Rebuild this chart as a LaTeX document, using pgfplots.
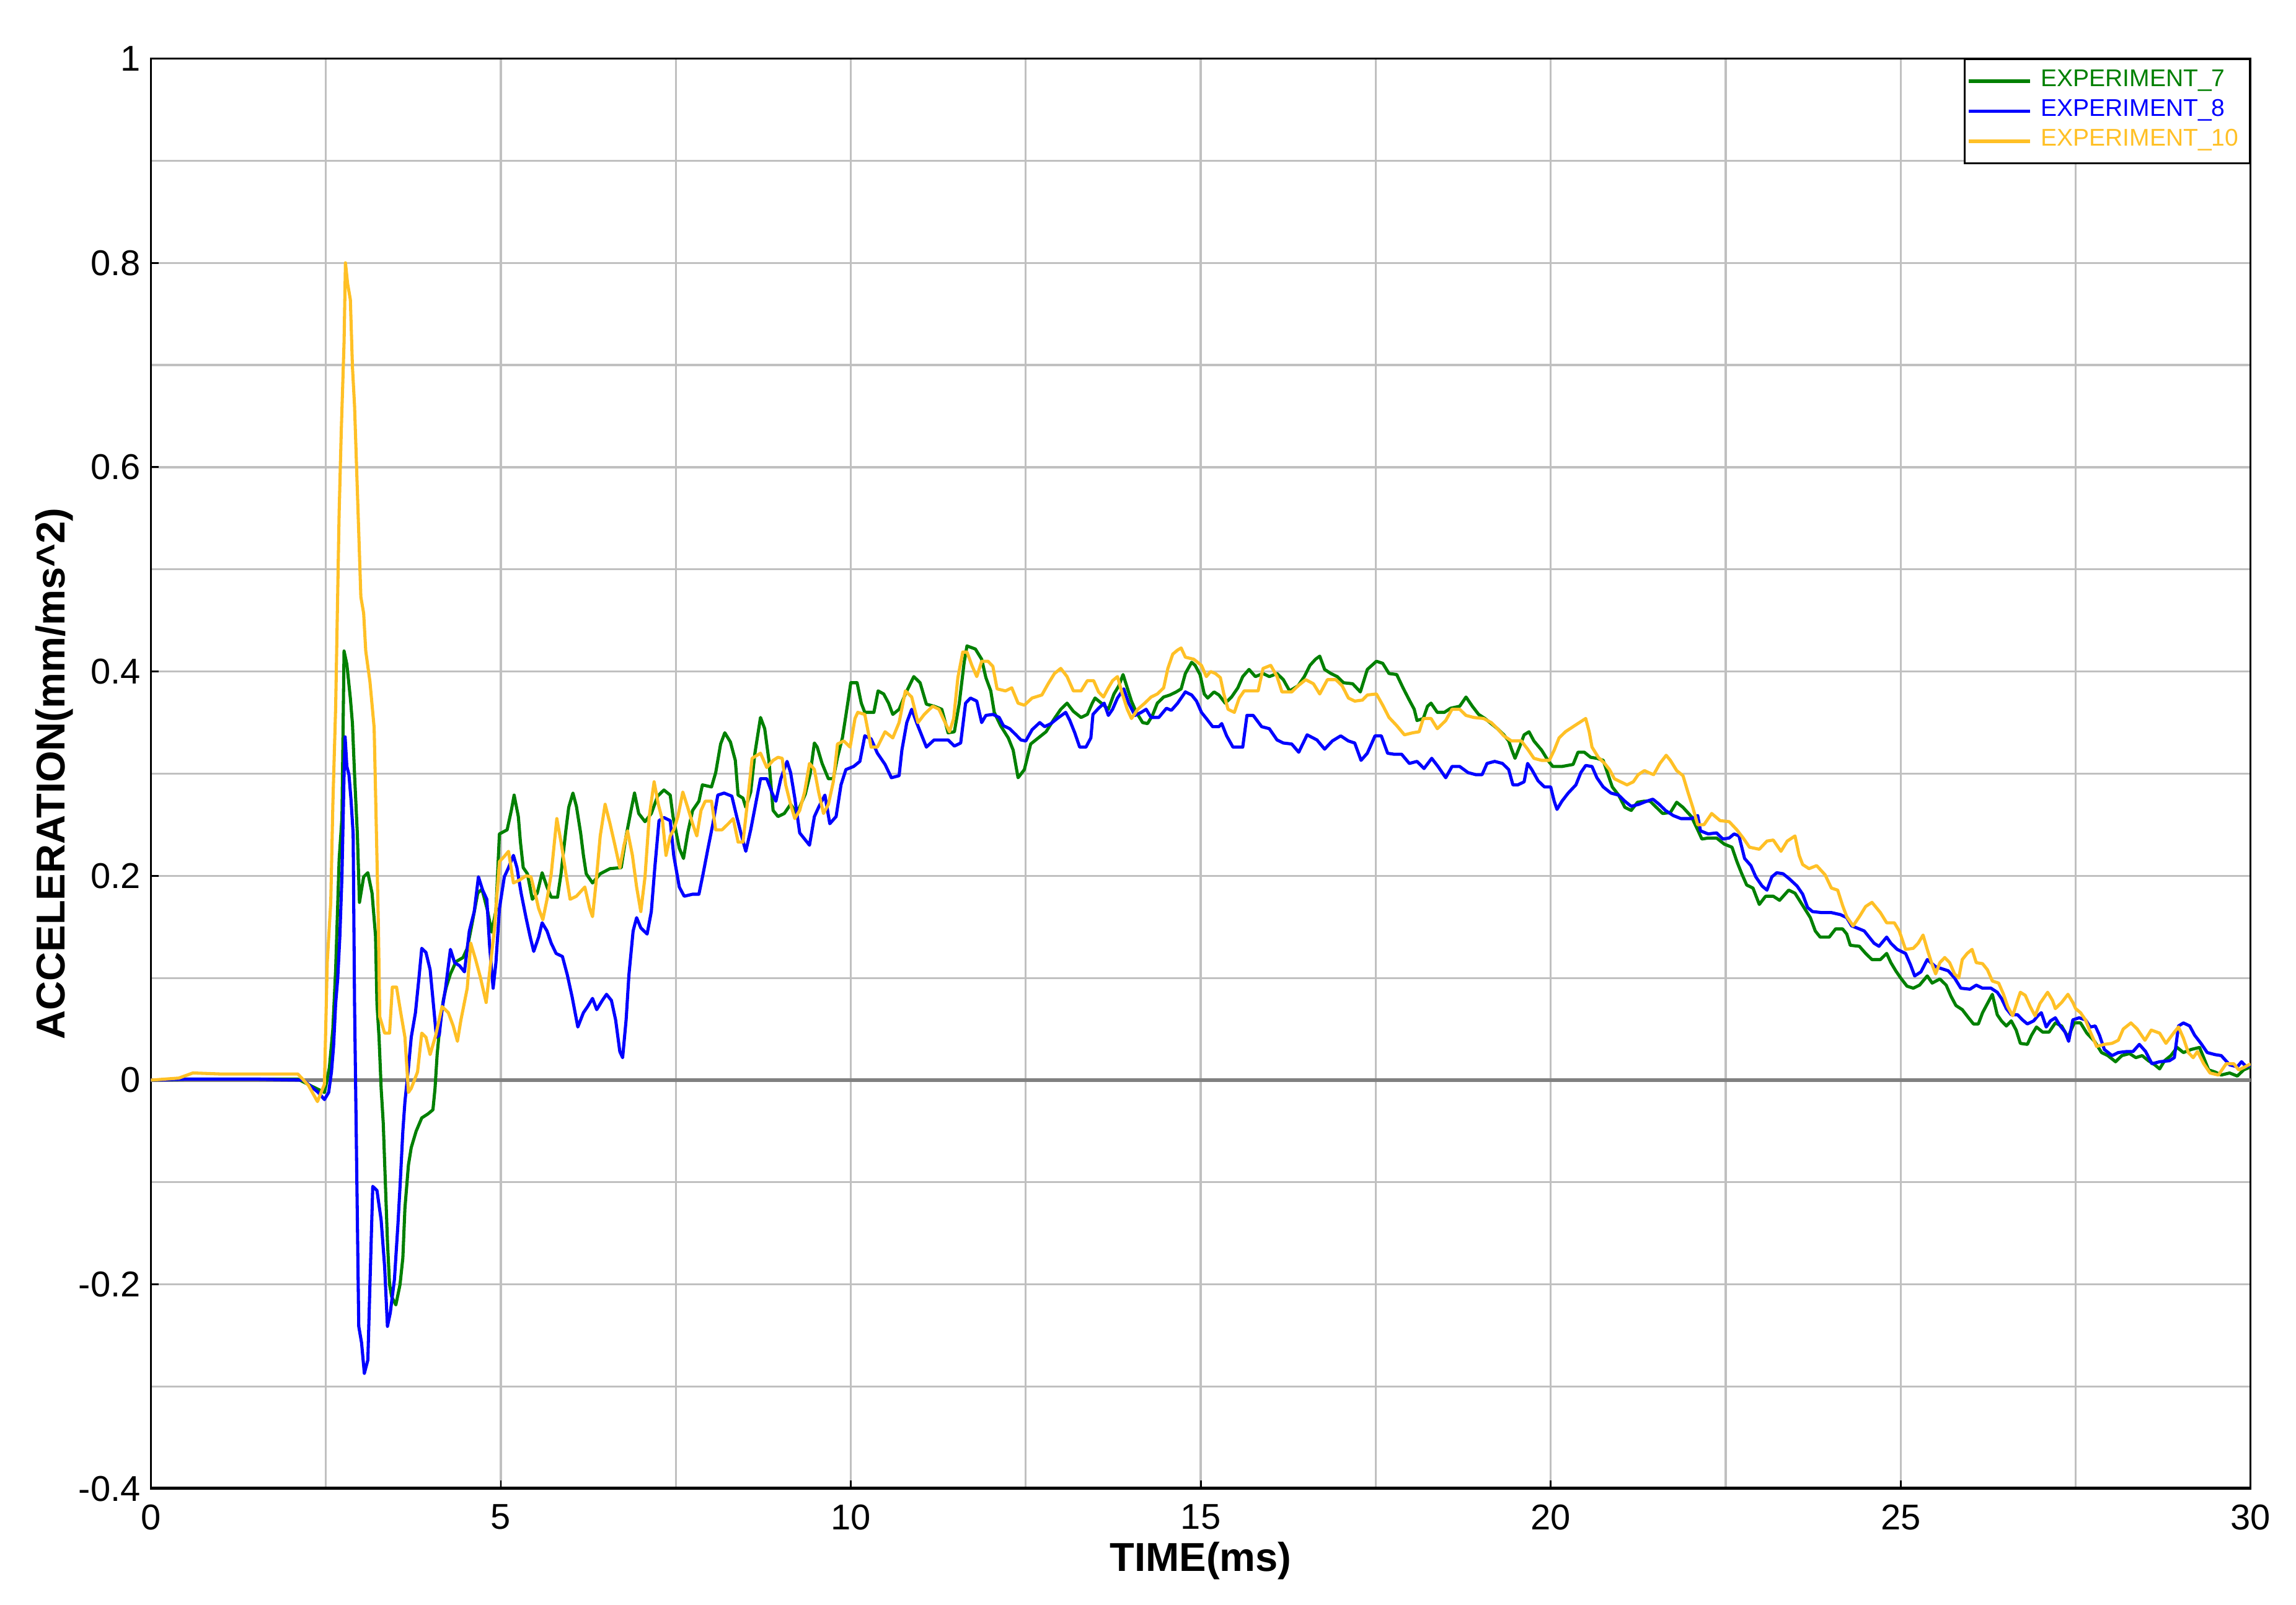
\documentclass[border=0pt]{standalone}
\usepackage{fontspec}
\setmainfont{Liberation Sans}
\usepackage{pgfplots}
\pgfplotsset{compat=1.18}

\definecolor{expgreen}{RGB}{0,128,0}
\definecolor{expblue}{RGB}{0,0,255}
\definecolor{expyellow}{RGB}{255,192,38}
\definecolor{gridgray}{RGB}{192,192,192}
\definecolor{zerogray}{RGB}{128,128,128}

\begin{document}
\begin{tikzpicture}
% page = the whole chart, axis box at (0,0)
\useasboundingbox (-1.183cm,-0.911cm) rectangle (16.819cm,11.676cm);
\begin{axis}[
  at={(0,0)}, anchor=south west,
  width=16.463cm, height=11.217cm, scale only axis,
  xmin=0, xmax=30, ymin=-0.4, ymax=1,
  xtick={0,5,10,15,20,25,30},
  ytick={-0.4,-0.2,0,0.2,0.4,0.6,0.8,1},
  minor xtick={2.5,7.5,12.5,17.5,22.5,27.5},
  minor ytick={-0.3,-0.1,0.1,0.3,0.5,0.7,0.9},
  grid=both,
  major grid style={gridgray, line width=0.45pt},
  minor grid style={gridgray, line width=0.45pt},
  tick pos=left, tick align=inside,
  major tick length=1.8pt, minor tick length=0pt,
  tick style={black, line width=0.4pt},
  axis line style={black, line width=0.4pt},
  /pgf/number format/assume math mode=true,
  ticklabel style={font=\fontsize{8}{9.6}\selectfont},
  yticklabel style={xshift=1.2pt},
  label style={font=\fontsize{9}{10.8}\selectfont\bfseries},
  xlabel={TIME(ms)},
  ylabel={ACCELERATION(mm/ms\textasciicircum{}2)},
  xlabel style={at={(axis description cs:0.5,-0.0502)}, anchor=center},
  ylabel style={at={(axis description cs:-0.046,0.5)}, anchor=center},
  legend style={at={(1,1)}, anchor=north east, draw=black, line width=0.4pt,
    fill=white, font=\fontsize{5.4}{6.6}\selectfont,
    inner xsep=0.5pt, inner ysep=0.3pt, row sep=-2.6pt,
    cells={anchor=west}},
  legend image code/.code={\draw[#1, line width=0.8pt] (0cm,0cm) -- (0.48cm,0cm);},
  every axis plot/.append style={line width=0.7pt, line join=round},
]

% zero reference line
\draw[zerogray, line width=0.9pt] (axis cs:0,0) -- (axis cs:30,0);

% EXPERIMENT_7
\addplot[expgreen] coordinates {
(0,0) (0.5,0.001) (1.0,0.001) (1.5,0.001) (2.1,0.001) (2.3,-0.006) (2.48,-0.012) (2.55,0.012) (2.60,0.05) (2.64,0.108) (2.69,0.216) (2.73,0.257) (2.76,0.42) (2.80,0.407) (2.85,0.374) (2.88,0.349) (2.91,0.299) (2.95,0.241) (2.98,0.174) (3.04,0.199) (3.10,0.203) (3.16,0.183) (3.21,0.141) (3.23,0.075) (3.26,0.042) (3.29,-0.008) (3.32,-0.042) (3.35,-0.10) (3.38,-0.158) (3.41,-0.2) (3.44,-0.212) (3.50,-0.22) (3.56,-0.20) (3.60,-0.174) (3.63,-0.125) (3.68,-0.083) (3.72,-0.066) (3.79,-0.05) (3.87,-0.037) (3.96,-0.033) (4.03,-0.029) (4.06,-0.008) (4.09,0.025) (4.13,0.054) (4.18,0.079) (4.22,0.091) (4.28,0.104) (4.36,0.116) (4.46,0.12) (4.52,0.129) (4.58,0.15) (4.67,0.183) (4.73,0.187) (4.81,0.166) (4.87,0.145) (4.93,0.166) (4.98,0.241)
(5.09,0.245) (5.15,0.264) (5.19,0.279) (5.25,0.258) (5.28,0.233) (5.32,0.208) (5.38,0.202) (5.45,0.177) (5.52,0.183) (5.59,0.203) (5.66,0.189) (5.72,0.179) (5.81,0.179) (5.86,0.202) (5.93,0.245) (5.97,0.267) (6.03,0.281) (6.08,0.268) (6.14,0.242) (6.18,0.220) (6.22,0.202) (6.31,0.193) (6.42,0.202) (6.56,0.207) (6.72,0.208) (6.79,0.239) (6.86,0.264) (6.91,0.281) (6.97,0.261) (7.06,0.253) (7.15,0.261) (7.24,0.278) (7.33,0.284) (7.42,0.279) (7.46,0.258) (7.55,0.227) (7.61,0.217) (7.67,0.242) (7.74,0.264) (7.83,0.273) (7.88,0.289) (8.01,0.287) (8.07,0.301) (8.14,0.329) (8.20,0.340) (8.28,0.331) (8.35,0.313) (8.39,0.279) (8.46,0.276) (8.50,0.267) (8.57,0.282) (8.63,0.320) (8.71,0.355) (8.77,0.344) (8.83,0.313) (8.89,0.264) (8.96,0.258) (9.05,0.261) (9.14,0.270) (9.23,0.261) (9.35,0.28) (9.42,0.30) (9.48,0.330) (9.52,0.326) (9.59,0.310) (9.68,0.295) (9.75,0.295) (9.81,0.316) (9.88,0.335) (9.93,0.357) (10.0,0.389) (10.09,0.389) (10.15,0.369) (10.20,0.360) (10.33,0.360) (10.39,0.381) (10.47,0.378) (10.54,0.369) (10.60,0.358)
(10.69,0.363) (10.78,0.378) (10.90,0.395) (10.99,0.389) (11.08,0.368) (11.19,0.366) (11.30,0.363) (11.39,0.340) (11.48,0.341) (11.55,0.369) (11.62,0.409) (11.66,0.425) (11.78,0.422) (11.87,0.412) (11.93,0.394) (12.00,0.381) (12.05,0.360) (12.14,0.347) (12.25,0.335) (12.32,0.323) (12.39,0.296) (12.48,0.304) (12.57,0.329) (12.68,0.335) (12.79,0.341) (12.91,0.354) (13.00,0.363) (13.09,0.369) (13.18,0.361) (13.29,0.355) (13.38,0.358) (13.45,0.369) (13.49,0.374) (13.58,0.369) (13.68,0.363) (13.76,0.378) (13.83,0.386) (13.89,0.397) (13.95,0.384) (14.01,0.371) (14.08,0.360) (14.17,0.350) (14.24,0.349) (14.31,0.357) (14.38,0.369) (14.47,0.375) (14.56,0.377) (14.65,0.380) (14.72,0.383) (14.78,0.398) (14.87,0.409) (14.92,0.406) (14.99,0.397) (15.05,0.378) (15.10,0.374) (15.19,0.380) (15.26,0.377) (15.35,0.369) (15.44,0.375) (15.53,0.384) (15.60,0.395) (15.69,0.402) (15.78,0.395) (15.89,0.398) (15.98,0.395) (16.09,0.398) (16.18,0.392) (16.27,0.381) (16.39,0.386) (16.48,0.395) (16.56,0.406) (16.64,0.412) (16.70,0.415) (16.77,0.402) (16.86,0.398) (16.95,0.395) (17.04,0.389) (17.17,0.388) (17.28,0.380) (17.38,0.402)
(17.51,0.410) (17.60,0.408) (17.69,0.398) (17.80,0.397) (17.89,0.384) (17.98,0.372) (18.05,0.363) (18.09,0.352) (18.18,0.354) (18.24,0.366) (18.29,0.369) (18.38,0.360) (18.48,0.360) (18.57,0.364) (18.70,0.366) (18.79,0.375) (18.88,0.366) (18.97,0.358) (19.06,0.354) (19.15,0.349) (19.24,0.344) (19.33,0.338) (19.40,0.332) (19.44,0.324) (19.49,0.315) (19.56,0.327) (19.62,0.338) (19.69,0.341) (19.76,0.332) (19.87,0.323) (19.96,0.313) (20.03,0.307) (20.16,0.307) (20.32,0.309) (20.39,0.321) (20.48,0.321) (20.57,0.316) (20.66,0.315) (20.75,0.313) (20.81,0.301) (20.88,0.287) (20.97,0.279) (21.06,0.267) (21.15,0.264) (21.24,0.272) (21.33,0.273) (21.42,0.273) (21.51,0.267) (21.60,0.261) (21.71,0.262) (21.80,0.272) (21.89,0.267) (22.01,0.258) (22.10,0.245) (22.16,0.236) (22.25,0.237) (22.37,0.237) (22.48,0.231) (22.59,0.228) (22.66,0.214) (22.73,0.202) (22.80,0.191) (22.89,0.188) (22.98,0.172) (23.07,0.180) (23.18,0.180) (23.27,0.176) (23.40,0.186) (23.49,0.183)
(23.60,0.171) (23.71,0.159) (23.78,0.146) (23.85,0.140) (23.98,0.140) (24.07,0.148) (24.17,0.148) (24.23,0.143) (24.28,0.132) (24.41,0.131) (24.50,0.124) (24.59,0.118) (24.71,0.118) (24.80,0.124) (24.86,0.115) (24.93,0.107) (25.00,0.100) (25.09,0.092) (25.18,0.090) (25.27,0.093) (25.38,0.102) (25.45,0.095) (25.56,0.099) (25.65,0.093) (25.72,0.082) (25.79,0.073) (25.88,0.069) (25.97,0.061) (26.04,0.055) (26.11,0.055) (26.17,0.066) (26.24,0.075) (26.31,0.084) (26.38,0.064) (26.44,0.058) (26.51,0.053) (26.58,0.058) (26.65,0.049) (26.71,0.036) (26.81,0.035) (26.87,0.044) (26.94,0.052) (27.03,0.047) (27.12,0.047) (27.21,0.056) (27.30,0.053) (27.39,0.042) (27.48,0.056) (27.57,0.056) (27.66,0.046) (27.77,0.038) (27.87,0.027) (27.96,0.024) (28.07,0.018) (28.16,0.024) (28.27,0.026) (28.36,0.022) (28.45,0.024) (28.54,0.019) (28.63,0.015) (28.70,0.011) (28.77,0.019) (28.86,0.024) (28.95,0.032) (29.04,0.027) (29.15,0.030) (29.27,0.032) (29.33,0.022) (29.40,0.010) (29.49,0.008) (29.58,0.005) (29.70,0.007) (29.81,0.004) (29.90,0.010) (30.0,0.013)
};
\addlegendentry{\textcolor{expgreen}{EXPERIMENT\_7}}

% EXPERIMENT_8
\addplot[expblue] coordinates {
(0,0) (0.5,0.001) (1.0,0.001) (1.5,0.001) (2.18,0) (2.39,-0.012) (2.48,-0.019) (2.54,-0.012) (2.58,0.008) (2.61,0.033) (2.64,0.075) (2.67,0.1) (2.70,0.141) (2.73,0.2) (2.76,0.299) (2.775,0.336) (2.80,0.307) (2.83,0.299) (2.86,0.274) (2.89,0.241) (2.91,0.075) (2.94,-0.083) (2.97,-0.241) (3.01,-0.257) (3.05,-0.287) (3.10,-0.274) (3.13,-0.2) (3.17,-0.104) (3.23,-0.108) (3.29,-0.137) (3.34,-0.183) (3.38,-0.241) (3.42,-0.228) (3.48,-0.195) (3.53,-0.141) (3.56,-0.104) (3.60,-0.05) (3.63,-0.021) (3.68,0.012) (3.72,0.042) (3.78,0.066) (3.83,0.1) (3.87,0.129) (3.93,0.125) (3.99,0.108) (4.03,0.079) (4.08,0.042) (4.12,0.044) (4.16,0.069) (4.21,0.090) (4.28,0.128) (4.34,0.115) (4.41,0.112) (4.48,0.106) (4.55,0.146) (4.62,0.165) (4.68,0.199) (4.74,0.186) (4.80,0.177) (4.84,0.131) (4.89,0.090) (4.93,0.115) (4.98,0.168) (5.05,0.199) (5.11,0.208) (5.18,0.220) (5.23,0.208) (5.29,0.183) (5.36,0.159) (5.42,0.140) (5.47,0.126) (5.54,0.140) (5.59,0.154) (5.66,0.146) (5.72,0.134) (5.79,0.124) (5.88,0.121) (5.95,0.103) (6.02,0.081) (6.10,0.052) (6.18,0.066) (6.24,0.072) (6.31,0.080) (6.37,0.069) (6.45,0.078) (6.51,0.084) (6.58,0.078) (6.64,0.059) (6.70,0.028) (6.74,0.022) (6.79,0.059) (6.83,0.103) (6.89,0.146) (6.94,0.159) (7.00,0.149) (7.09,0.143) (7.15,0.165) (7.20,0.208) (7.26,0.254) (7.33,0.257) (7.42,0.254) (7.47,0.220) (7.55,0.189) (7.62,0.180) (7.74,0.182) (7.83,0.182) (7.89,0.202) (7.96,0.227) (8.03,0.251) (8.10,0.279) (8.19,0.281) (8.30,0.278) (8.37,0.258) (8.44,0.239) (8.50,0.224) (8.57,0.245) (8.64,0.270) (8.71,0.295) (8.80,0.295) (8.87,0.282) (8.93,0.273) (9.00,0.295) (9.09,0.312) (9.14,0.301) (9.20,0.276) (9.27,0.242) (9.34,0.236) (9.41,0.230) (9.48,0.258) (9.54,0.267) (9.63,0.279) (9.70,0.251) (9.79,0.258) (9.86,0.289) (9.93,0.304) (10.04,0.307) (10.13,0.312) (10.20,0.337) (10.29,0.334) (10.38,0.320) (10.49,0.309) (10.58,0.296)
(10.69,0.298) (10.73,0.323) (10.80,0.350) (10.87,0.363) (10.94,0.350) (11.01,0.338) (11.08,0.326) (11.19,0.333) (11.30,0.333) (11.39,0.333) (11.48,0.327) (11.57,0.330) (11.64,0.369) (11.71,0.374) (11.80,0.371) (11.87,0.350) (11.93,0.357) (12.03,0.358) (12.12,0.355) (12.18,0.347) (12.27,0.344) (12.36,0.338) (12.43,0.333) (12.50,0.332) (12.59,0.343) (12.70,0.350) (12.77,0.346) (12.86,0.349) (12.95,0.354) (13.07,0.360) (13.13,0.352) (13.20,0.340) (13.27,0.326) (13.36,0.326) (13.43,0.335) (13.46,0.358) (13.54,0.364) (13.62,0.369) (13.68,0.357) (13.74,0.363) (13.81,0.374) (13.90,0.383) (13.97,0.369) (14.06,0.357) (14.15,0.360) (14.22,0.363) (14.29,0.355) (14.40,0.355) (14.51,0.364) (14.58,0.362) (14.67,0.369) (14.78,0.380) (14.87,0.377) (14.94,0.371) (15.01,0.360) (15.08,0.354) (15.17,0.346) (15.26,0.346) (15.30,0.349) (15.37,0.337) (15.46,0.326) (15.60,0.326) (15.66,0.357) (15.75,0.357) (15.87,0.346) (15.98,0.344) (16.09,0.333) (16.18,0.330) (16.30,0.329) (16.40,0.321) (16.52,0.338) (16.66,0.333) (16.77,0.324) (16.88,0.332) (17.00,0.337) (17.11,0.332) (17.20,0.330) (17.29,0.313) (17.38,0.320)
(17.49,0.337) (17.58,0.337) (17.67,0.320) (17.76,0.319) (17.87,0.319) (17.98,0.310) (18.09,0.312) (18.19,0.305) (18.30,0.315) (18.39,0.307) (18.50,0.296) (18.59,0.307) (18.70,0.307) (18.82,0.301) (18.93,0.299) (19.02,0.299) (19.09,0.310) (19.20,0.312) (19.31,0.310) (19.40,0.304) (19.46,0.289) (19.53,0.289) (19.62,0.292) (19.67,0.310) (19.73,0.304) (19.82,0.293) (19.91,0.287) (20.00,0.287) (20.05,0.273) (20.09,0.265) (20.16,0.273) (20.25,0.281) (20.36,0.289) (20.43,0.301) (20.50,0.308) (20.59,0.307) (20.66,0.296) (20.75,0.287) (20.86,0.281) (20.97,0.279) (21.06,0.273) (21.15,0.268) (21.26,0.270) (21.37,0.273) (21.46,0.275) (21.55,0.270) (21.64,0.264) (21.75,0.259) (21.86,0.256) (22.01,0.256) (22.10,0.259) (22.14,0.244) (22.25,0.241) (22.37,0.242) (22.46,0.236) (22.55,0.237) (22.62,0.241) (22.69,0.239) (22.77,0.217) (22.86,0.210) (22.93,0.199) (23.02,0.190) (23.09,0.186) (23.16,0.199) (23.23,0.203) (23.32,0.202) (23.41,0.197) (23.52,0.190)
(23.60,0.182) (23.67,0.169) (23.74,0.165) (23.87,0.164) (24.01,0.164) (24.14,0.162) (24.23,0.159) (24.30,0.151) (24.41,0.148) (24.48,0.146) (24.55,0.140) (24.62,0.134) (24.69,0.131) (24.80,0.140) (24.86,0.134) (24.95,0.128) (25.07,0.124) (25.14,0.113) (25.20,0.102) (25.29,0.106) (25.38,0.118) (25.50,0.111) (25.59,0.109) (25.68,0.107) (25.77,0.100) (25.86,0.090) (25.99,0.089) (26.08,0.093) (26.17,0.090) (26.29,0.090) (26.38,0.086) (26.44,0.080) (26.51,0.070) (26.58,0.064) (26.67,0.064) (26.74,0.059) (26.81,0.055) (26.90,0.058) (26.96,0.063) (27.01,0.066) (27.08,0.052) (27.14,0.058) (27.21,0.061) (27.28,0.053) (27.35,0.047) (27.40,0.038) (27.46,0.059) (27.55,0.061) (27.64,0.059) (27.71,0.052) (27.78,0.053) (27.84,0.044) (27.91,0.030) (28.02,0.024) (28.11,0.027) (28.23,0.028) (28.32,0.028) (28.41,0.035) (28.50,0.028) (28.59,0.016) (28.70,0.018) (28.84,0.019) (28.91,0.022) (28.97,0.053) (29.04,0.056) (29.13,0.053) (29.20,0.044) (29.29,0.036) (29.38,0.027) (29.49,0.025) (29.58,0.024) (29.70,0.015) (29.81,0.013) (29.87,0.018) (29.94,0.013) (30.0,0.015)
};
\addlegendentry{\textcolor{expblue}{EXPERIMENT\_8}}

% EXPERIMENT_10
\addplot[expyellow] coordinates {
(0,0) (0.4,0.002) (0.6,0.007) (1.0,0.006) (1.5,0.006) (2.10,0.006) (2.25,-0.005) (2.38,-0.021) (2.48,-0.004) (2.52,0.116) (2.57,0.174) (2.60,0.27) (2.64,0.365) (2.69,0.556) (2.72,0.635) (2.76,0.722) (2.78,0.80) (2.81,0.78) (2.85,0.764) (2.88,0.698) (2.91,0.66) (2.94,0.598) (2.97,0.536) (3.00,0.473) (3.04,0.457) (3.07,0.42) (3.13,0.39) (3.19,0.345) (3.22,0.25) (3.25,0.154) (3.27,0.062) (3.34,0.046) (3.41,0.046) (3.45,0.091) (3.51,0.091) (3.57,0.066) (3.63,0.042) (3.68,-0.012) (3.72,-0.008) (3.81,0.008) (3.87,0.046) (3.93,0.042) (3.99,0.025) (4.07,0.044) (4.16,0.072) (4.25,0.066) (4.32,0.053) (4.38,0.038) (4.43,0.059) (4.52,0.090) (4.57,0.134) (4.64,0.118) (4.71,0.100) (4.79,0.076) (4.84,0.106) (4.91,0.149) (4.98,0.214) (5.05,0.219) (5.11,0.224) (5.18,0.193) (5.27,0.196) (5.36,0.200) (5.43,0.199) (5.50,0.180) (5.54,0.168) (5.60,0.157) (5.66,0.177) (5.72,0.202) (5.77,0.236) (5.80,0.256) (5.86,0.233) (5.93,0.202) (5.99,0.177) (6.08,0.180) (6.20,0.189) (6.27,0.168) (6.31,0.160) (6.36,0.193) (6.42,0.239) (6.49,0.270) (6.56,0.251) (6.63,0.230) (6.70,0.208) (6.76,0.230) (6.81,0.244) (6.88,0.220) (6.94,0.189) (7.00,0.165) (7.06,0.199) (7.12,0.258) (7.19,0.292) (7.25,0.270) (7.31,0.254) (7.36,0.220) (7.42,0.239) (7.47,0.245) (7.53,0.258) (7.60,0.282) (7.67,0.267) (7.74,0.251) (7.80,0.239) (7.86,0.264) (7.92,0.273) (8.01,0.273) (8.07,0.245) (8.16,0.245) (8.25,0.251) (8.32,0.256) (8.39,0.233) (8.46,0.233) (8.53,0.276) (8.59,0.315) (8.71,0.320) (8.80,0.306) (8.89,0.313) (8.96,0.316) (9.02,0.315) (9.07,0.289) (9.14,0.270) (9.20,0.256) (9.27,0.264) (9.34,0.282) (9.41,0.310) (9.48,0.304) (9.54,0.282) (9.61,0.261) (9.68,0.270) (9.75,0.292) (9.81,0.329) (9.90,0.332) (9.99,0.326) (10.06,0.354) (10.10,0.360) (10.20,0.358) (10.29,0.326) (10.38,0.326) (10.49,0.341) (10.60,0.335)
(10.69,0.350) (10.78,0.381) (10.87,0.375) (10.96,0.350) (11.05,0.358) (11.17,0.366) (11.26,0.363) (11.32,0.354) (11.41,0.341) (11.47,0.354) (11.53,0.394) (11.60,0.419) (11.66,0.419) (11.73,0.406) (11.80,0.395) (11.87,0.410) (11.96,0.410) (12.03,0.405) (12.09,0.383) (12.21,0.381) (12.30,0.384) (12.39,0.369) (12.48,0.367) (12.59,0.374) (12.73,0.377) (12.82,0.388) (12.91,0.398) (13.00,0.403) (13.09,0.395) (13.18,0.381) (13.29,0.381) (13.38,0.391) (13.47,0.391) (13.54,0.380) (13.61,0.375) (13.68,0.384) (13.74,0.391) (13.81,0.395) (13.88,0.378) (13.95,0.363) (14.01,0.354) (14.10,0.363) (14.20,0.369) (14.29,0.375) (14.38,0.378) (14.47,0.384) (14.53,0.403) (14.60,0.417) (14.67,0.421) (14.72,0.423) (14.78,0.414) (14.90,0.412) (15.01,0.406) (15.08,0.395) (15.14,0.400) (15.21,0.398) (15.28,0.394) (15.33,0.378) (15.39,0.363) (15.48,0.360) (15.55,0.374) (15.62,0.381) (15.73,0.381) (15.82,0.381) (15.89,0.403) (16.00,0.406) (16.09,0.395) (16.16,0.380) (16.30,0.380) (16.39,0.386) (16.50,0.392) (16.61,0.388) (16.70,0.378) (16.81,0.392) (16.93,0.392) (17.02,0.386) (17.11,0.374) (17.20,0.371) (17.31,0.372) (17.38,0.377)
(17.51,0.378) (17.60,0.367) (17.69,0.355) (17.80,0.347) (17.91,0.338) (18.03,0.340) (18.12,0.341) (18.18,0.354) (18.29,0.354) (18.38,0.344) (18.50,0.352) (18.59,0.363) (18.70,0.363) (18.79,0.357) (18.90,0.355) (19.04,0.354) (19.15,0.350) (19.24,0.344) (19.33,0.337) (19.44,0.332) (19.58,0.332) (19.67,0.324) (19.76,0.315) (19.87,0.313) (19.98,0.313) (20.05,0.323) (20.12,0.335) (20.21,0.341) (20.32,0.346) (20.41,0.350) (20.50,0.354) (20.55,0.341) (20.59,0.326) (20.68,0.316) (20.77,0.310) (20.84,0.304) (20.91,0.295) (21.00,0.292) (21.09,0.289) (21.18,0.292) (21.25,0.299) (21.34,0.303) (21.40,0.301) (21.47,0.299) (21.56,0.310) (21.65,0.318) (21.71,0.313) (21.80,0.303) (21.89,0.298) (21.96,0.282) (22.03,0.267) (22.10,0.250) (22.19,0.250) (22.30,0.261) (22.42,0.254) (22.55,0.253) (22.66,0.245) (22.75,0.237) (22.84,0.228) (22.98,0.226) (23.09,0.234) (23.18,0.235) (23.29,0.224) (23.38,0.234) (23.49,0.239)
(23.55,0.220) (23.60,0.211) (23.69,0.207) (23.80,0.210) (23.92,0.201) (24.01,0.188) (24.10,0.186) (24.17,0.171) (24.23,0.160) (24.32,0.151) (24.41,0.160) (24.50,0.170) (24.59,0.174) (24.71,0.164) (24.80,0.154) (24.91,0.154) (24.98,0.146) (25.07,0.128) (25.18,0.129) (25.25,0.134) (25.32,0.142) (25.38,0.128) (25.45,0.113) (25.50,0.104) (25.56,0.115) (25.63,0.120) (25.70,0.115) (25.77,0.104) (25.83,0.100) (25.88,0.118) (25.95,0.124) (26.02,0.128) (26.08,0.115) (26.17,0.114) (26.24,0.108) (26.31,0.097) (26.40,0.095) (26.47,0.084) (26.53,0.072) (26.60,0.063) (26.67,0.078) (26.71,0.086) (26.78,0.083) (26.85,0.072) (26.92,0.063) (26.99,0.075) (27.10,0.086) (27.17,0.078) (27.21,0.070) (27.30,0.076) (27.39,0.084) (27.46,0.076) (27.50,0.070) (27.57,0.066) (27.64,0.059) (27.71,0.047) (27.80,0.033) (27.91,0.035) (28.02,0.036) (28.11,0.039) (28.18,0.050) (28.29,0.056) (28.38,0.050) (28.49,0.039) (28.58,0.049) (28.70,0.046) (28.79,0.036) (28.91,0.047) (28.97,0.052) (29.04,0.041) (29.11,0.027) (29.18,0.022) (29.24,0.028) (29.33,0.016) (29.42,0.007) (29.54,0.005) (29.65,0.016) (29.76,0.016) (29.83,0.010) (29.92,0.013) (30.0,0.016)
};
\addlegendentry{\textcolor{expyellow}{EXPERIMENT\_10}}

% heavier bottom axis line
\draw[black, line width=1pt] (rel axis cs:0,0) -- (rel axis cs:1,0);
\end{axis}
\end{tikzpicture}
\end{document}
